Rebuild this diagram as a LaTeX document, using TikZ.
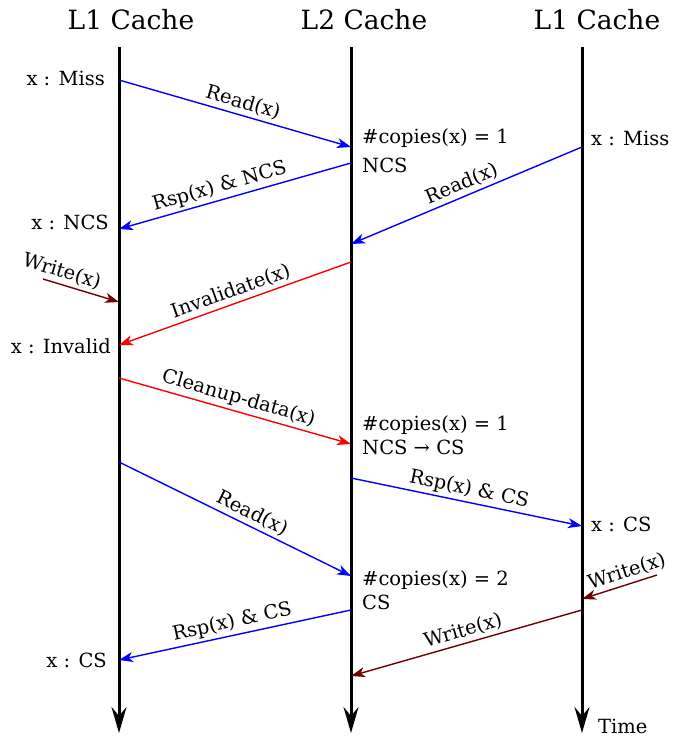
\documentclass[tikz,border=0pt]{standalone}
\usepackage{fontspec}
\setmainfont{DejaVu Serif}
\usetikzlibrary{arrows.meta}
\definecolor{wred}{RGB}{110,0,0}
\newcommand\mylblsize{\fontsize{19.5pt}{22pt}\selectfont}
\newcommand\myttlsize{\fontsize{26.5pt}{30pt}\selectfont}
\tikzset{
  lifeline/.style={line width=3pt,-{Stealth[length=26pt,width=15pt,inset=9pt]}},
  msg/.style={line width=1.4pt,-{Stealth[length=14pt,width=10pt,inset=4pt]}},
  rd/.style={msg,blue},
  iv/.style={msg,red},
  wr/.style={msg,wred},
  ttl/.style={font=\myttlsize},
  lbl/.style={font=\mylblsize,inner sep=1pt},
  mlbl/.style={font=\mylblsize,text=black,inner sep=3pt,above,sloped},
  st/.style={font=\mylblsize,inner sep=0pt,anchor=west}
}
\begin{document}
\begin{tikzpicture}[x=1pt,y=-1pt]
\useasboundingbox (0,0) rectangle (697,738);
% titles
\node[ttl] (t1) at (131,20) {L1 Cache};
\node[ttl] (t2) at (364,20) {L2 Cache};
\node[ttl] (t3) at (597,20) {L1 Cache};
% lifelines
\coordinate (A0) at (119,47); \coordinate (A1) at (119,733);
\coordinate (B0) at (351,47); \coordinate (B1) at (351,733);
\coordinate (C0) at (582,47); \coordinate (C1) at (582,733);
\draw[lifeline] (A0) -- (A1);
\draw[lifeline] (B0) -- (B1);
\draw[lifeline] (C0) -- (C1);
% message end points
\coordinate (a1) at (119,80);  \coordinate (b1) at (351,147);
\coordinate (b2) at (351,163); \coordinate (a2) at (119,229);
\coordinate (c3) at (582,147); \coordinate (b3) at (351,244);
\coordinate (w1) at (43,279);  \coordinate (a4) at (119,302);
\coordinate (b5) at (351,262); \coordinate (a5) at (119,345);
\coordinate (a6) at (119,378); \coordinate (b6) at (351,444);
\coordinate (b7) at (351,478); \coordinate (c7) at (582,526);
\coordinate (a8) at (119,462); \coordinate (b8) at (351,576);
\coordinate (b9) at (351,610); \coordinate (a9) at (119,660);
\coordinate (w2) at (657,575); \coordinate (c10) at (582,599);
\coordinate (c11) at (582,610); \coordinate (b11) at (351,676);
% messages
\draw[rd] (a1) -- node[mlbl,pos=0.52] {Read(x)} (b1);
\draw[rd] (b2) -- node[mlbl,pos=0.55] {Rsp(x) \& NCS} (a2);
\draw[rd] (c3) -- node[mlbl] {Read(x)} (b3);
\draw[wr] (w1) -- node[mlbl,pos=0.2] {Write(x)} (a4);
\draw[iv] (b5) -- node[mlbl] {Invalidate(x)} (a5);
\draw[iv] (a6) -- node[mlbl] {Cleanup-data(x)} (b6);
\draw[rd] (b7) -- node[mlbl] {Rsp(x) \& CS} (c7);
\draw[rd] (a8) -- node[mlbl,pos=0.55] {Read(x)} (b8);
\draw[rd] (b9) -- node[mlbl] {Rsp(x) \& CS} (a9);
\draw[wr] (w2) -- node[mlbl,pos=0.35] {Write(x)} (c10);
\draw[wr] (c11) -- node[mlbl] {Write(x)} (b11);
% state labels
\node[lbl,anchor=east] (s1) at (106,78) {x : Miss};
\node[st] (s2a) at (362,138) {\#copies(x) = 1};
\node[st] (s2b) at (362,165) {NCS};
\node[lbl,anchor=west] (s3) at (590,138) {x : Miss};
\node[lbl,anchor=east] (s4) at (110,222) {x : NCS};
\node[lbl,anchor=east] (s5) at (112,346) {x : Invalid};
\node[st] (s6a) at (362,425) {\#copies(x) = 1};
\node[st] (s6b) at (362,447) {NCS → CS};
\node[lbl,anchor=west] (s7) at (590,524) {x : CS};
\node[st] (s8a) at (362,580) {\#copies(x) = 2};
\node[st] (s8b) at (362,602) {CS};
\node[lbl,anchor=east] (s9) at (108,660) {x : CS};
\node[font=\mylblsize,inner sep=0pt,anchor=west] (tm) at (598,726) {Time};
\end{tikzpicture}
\end{document}
